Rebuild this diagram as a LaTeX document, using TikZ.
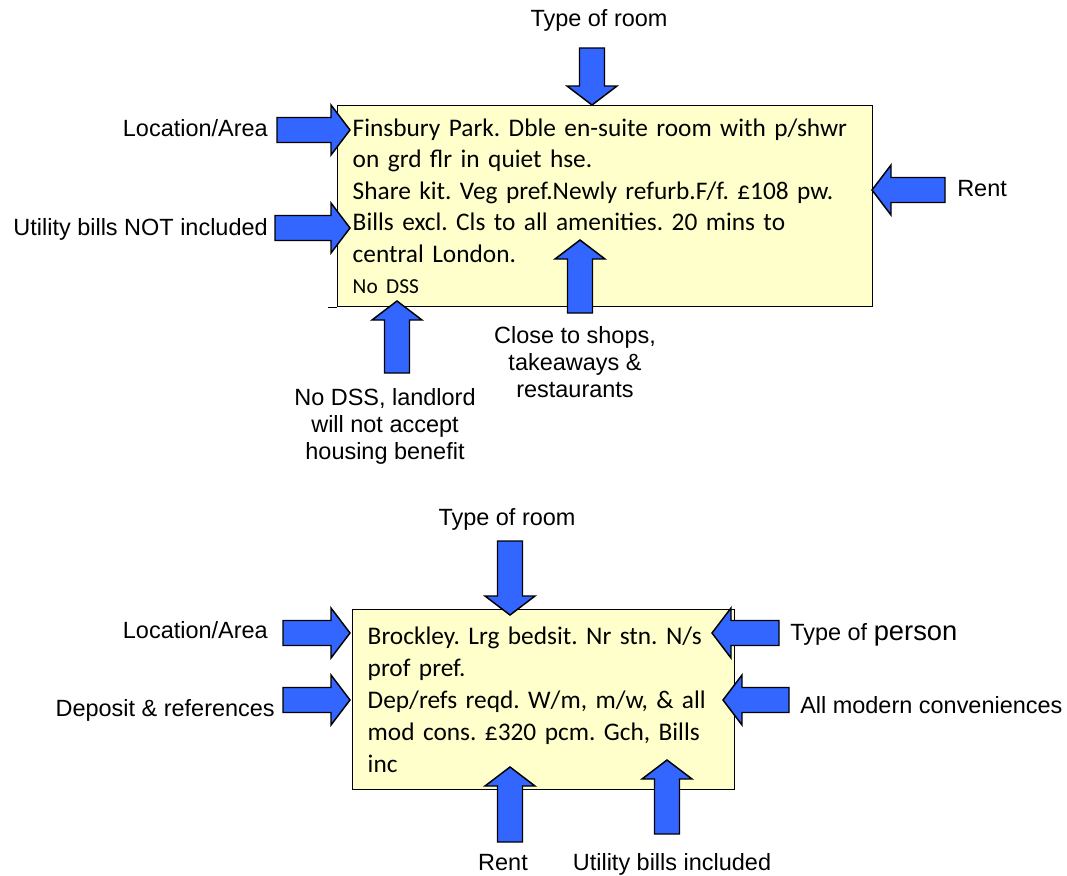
\documentclass[tikz,border=0pt]{standalone}
\usepackage{fontspec}
\setmainfont{Liberation Sans}
\newfontfamily\adfont{Carlito}
\frenchspacing
\definecolor{adyellow}{RGB}{255,255,204}
\definecolor{arrowblue}{RGB}{51,102,255}
\tikzset{
  pics/blockarrow/.style={code={
    \draw [arrowbody] (0,0) -- (-19,25) -- (-19,12.5) -- (-#1,12.5) -- (-#1,-12.5) -- (-19,-12.5) -- (-19,-25) -- cycle;
  }}
}

\begin{document}
\begin{tikzpicture}[x=0.75pt, y=-0.75pt,
    adbox/.style={draw=black, line width=1.1pt, fill=adyellow, anchor=north west, align=left, inner xsep=11.25pt, inner ysep=0pt},
    arrowbody/.style={draw=black, line width=1.1pt, fill=arrowblue, line join=miter},
    lbl/.style={font=\fontsize{17.6pt}{20.25pt}\selectfont, inner sep=0pt, align=center}]
    \useasboundingbox (0,0) rectangle (1067,875);

    % first advert
    \node [adbox, minimum width=401.25pt, minimum height=150.75pt, text width=378.75pt,
      font=\adfont\fontsize{19pt}{23.6pt}\selectfont] (ad1) at (337,105)
      {\mbox{Finsbury Park. Dble en-suite room with p/shwr}\\
       on grd flr in quiet hse.\\
       \mbox{Share kit. Veg pref.Newly refurb.F/f. £108 pw.}\\
       \mbox{Bills excl. Cls to all amenities. 20 mins to}\\
       central London.\\
       {\fontsize{16pt}{23.6pt}\selectfont No DSS}};
    \draw [line width=1.1pt] (ad1.south west) -- ++(-9,0);

    \pic [rotate=-90] at (592,105) {blockarrow=57};
    \pic at (350,130) {blockarrow=73};
    \pic at (350,228) {blockarrow=75};
    \pic [rotate=180] at (872,190) {blockarrow=73};
    \pic [rotate=90] at (580,240) {blockarrow=73};
    \pic [rotate=90] at (397,301) {blockarrow=72};

    \node [lbl, anchor=base] (room1) at (599,26) {Type of room};
    \node [lbl, anchor=base east] (area1) at (268,136) {Location/Area};
    \node [lbl, anchor=base east] (bills1) at (268,235) {Utility bills NOT included};
    \node [lbl, anchor=base west] (rent1) at (957,196) {Rent};
    \node [lbl, anchor=north] (shops1) at (575,326) {Close to shops,\\ takeaways \&\\ restaurants};
    \node [lbl, anchor=north] (dss1) at (385,388) {No DSS, landlord\\ will not accept\\ housing benefit};

    % second advert
    \node [adbox, minimum width=286.5pt, minimum height=135pt, text width=264pt,
      font=\adfont\fontsize{19pt}{24pt}\selectfont] (ad2) at (352,609)
      {\mbox{Brockley. Lrg bedsit. Nr stn. N/s}\\
       prof pref.\\
       \mbox{Dep/refs reqd. W/m, m/w, \& all}\\
       \mbox{mod cons. £320 pcm. Gch, Bills}\\
       inc};

    \pic [rotate=-90] at (510,615) {blockarrow=74};
    \pic at (350,633) {blockarrow=67};
    \pic at (350,700) {blockarrow=67};
    \pic [rotate=180] at (712,633) {blockarrow=67};
    \pic [rotate=180] at (723,700) {blockarrow=66};
    \pic [rotate=90] at (510,767) {blockarrow=75};
    \pic [rotate=90] at (667,760) {blockarrow=74};

    \node [lbl, anchor=base] (room2) at (507,525) {Type of room};
    \node [lbl, anchor=base east] (area2) at (268,638) {Location/Area};
    \node [lbl, anchor=base east] (deposit2) at (275,716) {Deposit \& references};
    \node [lbl, anchor=base west] (person2) at (790,640) {Type of {\fontsize{20.5pt}{20.25pt}\selectfont person}};
    \node [lbl, anchor=base west] (mod2) at (800,713) {All modern conveniences};
    \node [lbl, anchor=base] (rent2) at (503,870) {Rent};
    \node [lbl, anchor=base] (bills2) at (672,870) {Utility bills included};
\end{tikzpicture}
\end{document}
